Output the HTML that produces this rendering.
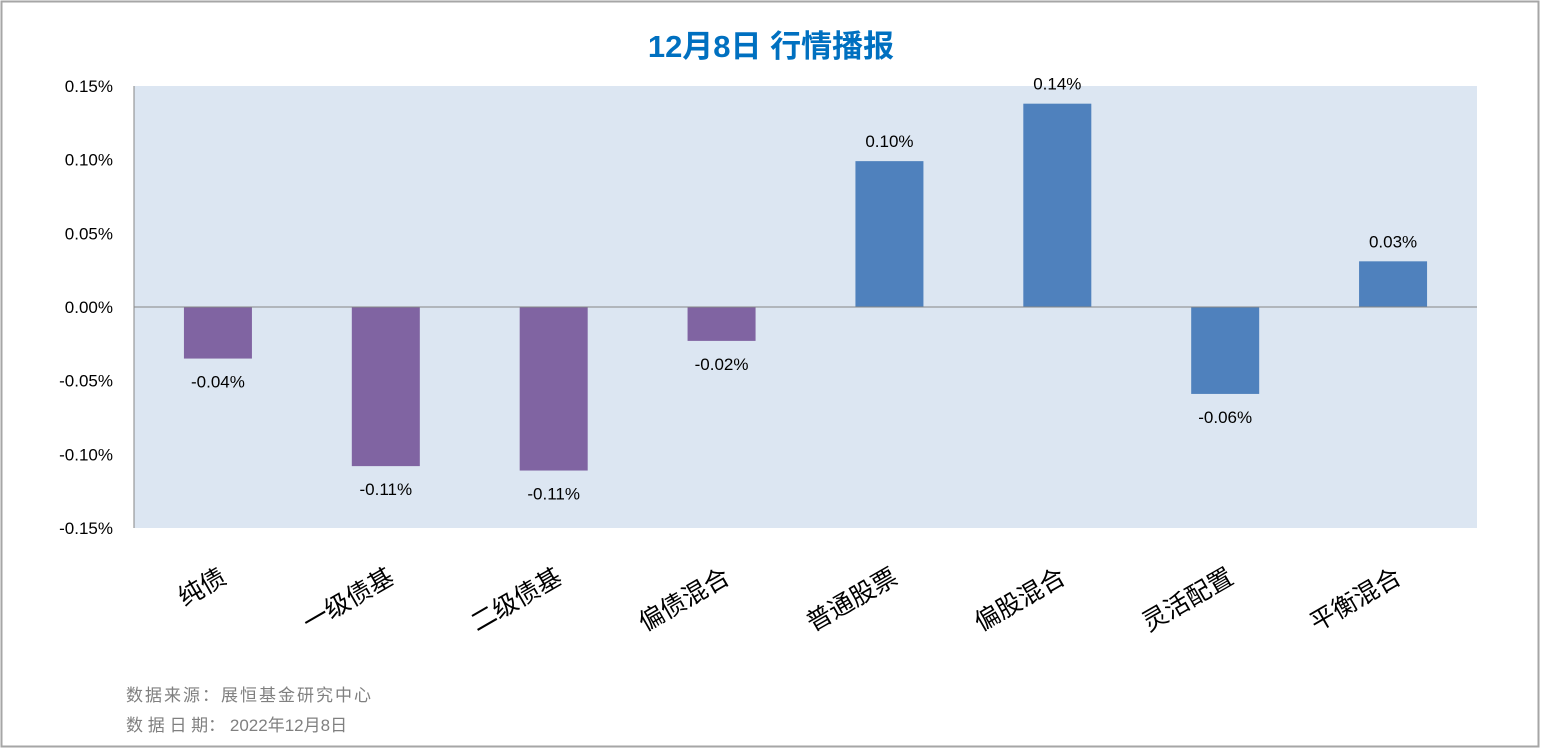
<!DOCTYPE html>
<html><head><meta charset="utf-8">
<style>
html,body{margin:0;padding:0;background:#fff;}
svg{display:block;font-family:"Liberation Sans","Noto Sans CJK SC",sans-serif;}
</style></head>
<body>
<svg id="chart" width="1543" height="751" xmlns="http://www.w3.org/2000/svg">
<rect x="1.5" y="1.5" width="1537" height="745" fill="#fff" stroke="#a6a6a6" stroke-width="2"/>
<text x="771" y="57" text-anchor="middle" font-size="31" font-weight="bold" fill="#0070C0" font-family="'Liberation Sans','Noto Sans CJK SC',sans-serif">12月8日 行情播报</text>
<rect x="134" y="86" width="1343" height="442" fill="#DCE6F2"/>
<line x1="134" y1="86" x2="134" y2="528" stroke="#868686" stroke-width="1"/>
<g id="yticks"></g>
<g id="bars"></g>
<line id="zero" x1="134" x2="1477" stroke="#868686" stroke-width="1"/>
<g id="xlabels"></g>
<text x="126" y="701" font-size="17" fill="#808080" letter-spacing="2">数据来源：展恒基金研究中心</text>
<text x="126" y="731" font-size="17" fill="#808080">数 据 日 期： 2022年12月8日</text>
</svg>
<script>
const categories = ["纯债","一级债基","二级债基","偏债混合","普通股票","偏股混合","灵活配置","平衡混合"];
const values = [-0.035, -0.108, -0.111, -0.023, 0.099, 0.138, -0.059, 0.031];
const valueLabels = ["-0.04%","-0.11%","-0.11%","-0.02%","0.10%","0.14%","-0.06%","0.03%"];
const barColors = ["#8064A2","#8064A2","#8064A2","#8064A2","#4F81BD","#4F81BD","#4F81BD","#4F81BD"];
const yTicks = [0.15,0.10,0.05,0,-0.05,-0.10,-0.15];
const yTickLabels = ["0.15%","0.10%","0.05%","0.00%","-0.05%","-0.10%","-0.15%"];

const NS="http://www.w3.org/2000/svg";
const plotL=134, plotR=1477, plotT=86, plotB=528, yMin=-0.15, yMax=0.15;
const y = v => plotT + (yMax - v)/(yMax - yMin)*(plotB-plotT);
const band = (plotR-plotL)/categories.length;
const xc = i => plotL + band*(i+0.5);
const barW = 68;
function mk(tag, attrs, parent){const e=document.createElementNS(NS,tag);for(const k in attrs)e.setAttribute(k,attrs[k]);parent.appendChild(e);return e;}

const yt=document.getElementById('yticks');
yTicks.forEach((t,i)=>{
  const tx=mk('text',{x:113,y:y(t)+6,'text-anchor':'end','font-size':17,fill:'#000'},yt);
  
  
  tx.textContent=yTickLabels[i];
});
const z=document.getElementById('zero');
z.setAttribute('y1',y(0));z.setAttribute('y2',y(0));

const bg=document.getElementById('bars');
const xl=document.getElementById('xlabels');
values.forEach((v,i)=>{
  const y0=y(0), yv=y(v);
  const r=mk('rect',{x:xc(i)-barW/2,y:Math.min(y0,yv),width:barW,height:Math.abs(yv-y0),fill:barColors[i]},bg);
  
  
  const ly = v>=0 ? yv-14 : yv+29;
  const t=mk('text',{x:xc(i),y:ly,'text-anchor':'middle','font-size':17,fill:'#000'},bg);
  
  
  t.textContent=valueLabels[i];
  const c=mk('text',{x:0,y:0,'text-anchor':'end','font-size':25,fill:'#000',transform:'translate('+(xc(i)+10)+',582) rotate(-30)'},xl);
  
  
  c.textContent=categories[i];
});
</script>
</body></html>
